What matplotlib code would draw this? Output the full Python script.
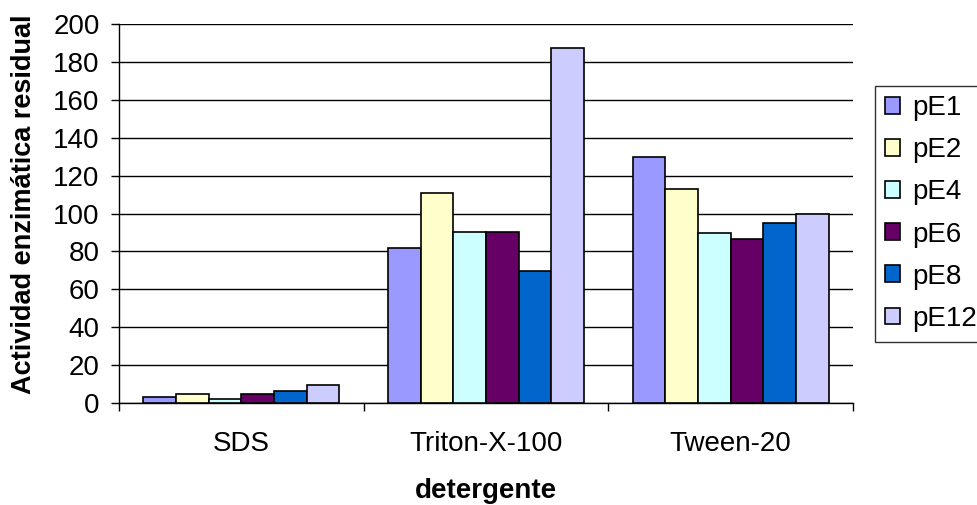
import numpy as np
import matplotlib
matplotlib.use('Agg')
import matplotlib.pyplot as plt

plt.rcParams['font.family'] = ['Liberation Sans', 'DejaVu Sans']

categories = ['SDS', 'Triton-X-100', 'Tween-20']
series = ['pE1', 'pE2', 'pE4', 'pE6', 'pE8', 'pE12']
values = {
    'pE1': [3, 82, 130],
    'pE2': [4.5, 111, 113],
    'pE4': [2, 90.5, 89.5],
    'pE6': [5, 90.5, 86.5],
    'pE8': [6.5, 69.5, 95],
    'pE12': [9.5, 187.5, 100],
}
colors = ['#9999FF', '#FFFFCC', '#CCFFFF', '#660066', '#0066CC', '#CCCCFF']

fig = plt.figure(figsize=(9.78, 5.05), dpi=100)
ax = fig.add_axes([119 / 978, 102 / 505, 734 / 978, 379 / 505])

x = np.arange(len(categories))
w = 0.8 / len(series)
for i, (name, col) in enumerate(zip(series, colors)):
    ax.bar(x - 0.4 + w * (i + 0.5), values[name], w, color=col,
           edgecolor='black', linewidth=1.2, label=name, zorder=3)

ax.set_xlim(-0.5, 2.5)
ax.set_ylim(0, 200)
ax.set_yticks(range(0, 201, 20))
ax.grid(axis='y', color='black', linewidth=1, zorder=0)

# category labels in the middle, tick marks between groups
ax.set_xticks(x)
ax.set_xticklabels(categories, fontsize=20)
ax.tick_params(axis='x', length=0, pad=20)
ax.set_xticks([-0.5, 0.5, 1.5, 2.5], minor=True)
ax.tick_params(axis='x', which='minor', length=6, width=1, direction='out')
ax.tick_params(axis='y', labelsize=20, length=6, width=1, direction='out', pad=8)

for s in ['top', 'right']:
    ax.spines[s].set_visible(False)
ax.spines['left'].set_linewidth(1)
ax.spines['bottom'].set_linewidth(1)

ax.set_ylabel('Actividad enzimática residual', fontsize=19.5, fontweight='bold')
ax.yaxis.set_label_coords(-0.112, 0.525)
ax.set_xlabel('detergente', fontsize=20, fontweight='bold', labelpad=15)

leg = ax.legend(loc='center left', bbox_to_anchor=(1.03, 0.5), fontsize=20,
                frameon=True, fancybox=False, edgecolor='black',
                handlelength=0.55, handleheight=0.55, handletextpad=0.45,
                labelspacing=0.58, borderpad=0.35, borderaxespad=0)
leg.get_frame().set_linewidth(1)

plt.savefig('out.png', dpi=100)
